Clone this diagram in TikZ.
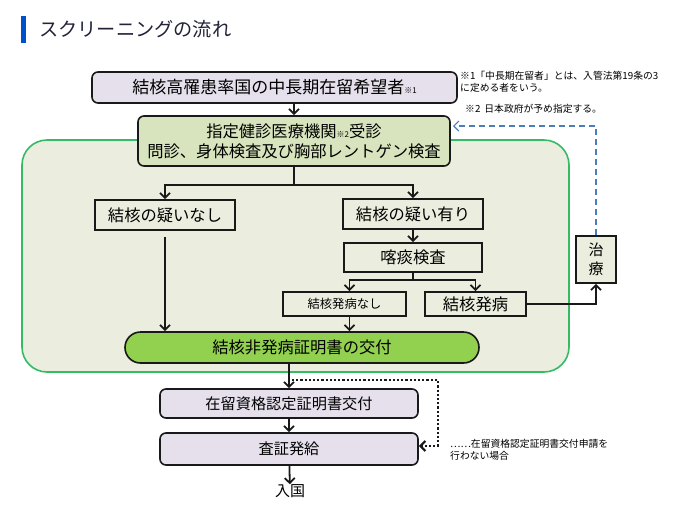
\documentclass[tikz,border=0pt]{standalone}
\usepackage{fontspec}
\setmainfont{Noto Sans CJK JP}
\usetikzlibrary{arrows.meta}
\definecolor{lavender}{HTML}{E6E0EC}
\definecolor{palegreen}{HTML}{D7E4BD}
\definecolor{areagreen}{HTML}{EBEEDF}
\definecolor{framegreen}{HTML}{33BB66}
\definecolor{limegreen}{HTML}{92D050}
\definecolor{backblue}{HTML}{4A7EBB}
\definecolor{titleblue}{HTML}{0050CC}
\definecolor{titleink}{HTML}{22223A}
\newcommand{\refmark}[1]{{\fontsize{8}{8}\selectfont ※#1}}
\begin{document}
\begin{tikzpicture}[x=1pt, y=-1pt, >={Straight Barb[length=5pt,width=10pt]},
  box/.style={draw=black!90, line width=1.6pt, inner sep=0pt, align=center,
    font=\fontsize{16.3}{20}\selectfont},
  roundbox/.style={box, rounded corners=6pt},
  arr/.style={->, line width=1.8pt, black!90},
  note/.style={anchor=west, inner sep=0pt, align=left, font=\fontsize{9.8}{12.5}\selectfont}]
\useasboundingbox (0,0) rectangle (683,515);
% title
\fill[titleblue] (21,16) rectangle (26,43);
\node[anchor=west, inner sep=0pt, text=titleink, font=\fontsize{19.2}{20}\selectfont] (title) at (39,29) {スクリーニングの流れ};
% screening area
\draw[framegreen, fill=areagreen, line width=1.6pt, rounded corners=25pt] (22,140) rectangle (569,372);
% boxes
\node[roundbox, fill=lavender, minimum width=365pt, minimum height=31pt, font=\fontsize{17}{20}\selectfont] (top) at (274.5,87.5) {結核高罹患率国の中長期在留希望者\refmark{1}};
\node[roundbox, fill=palegreen, minimum width=312pt, minimum height=50pt] (exam) at (294,141) {指定健診医療機関\refmark{2}受診\\問診、身体検査及び胸部レントゲン検査};
\node[box, fill=areagreen, minimum width=140pt, minimum height=30pt] (none) at (165,215) {結核の疑いなし};
\node[box, fill=areagreen, minimum width=140pt, minimum height=30pt] (susp) at (413,214) {結核の疑い有り};
\node[box, fill=areagreen, minimum width=138pt, minimum height=29pt] (sputum) at (413,257.5) {喀痰検査};
\node[box, fill=areagreen, minimum width=123pt, minimum height=24pt, font=\fontsize{12.3}{14}\selectfont] (negative) at (344.5,304) {結核発病なし};
\node[box, fill=areagreen, minimum width=101pt, minimum height=24pt] (positive) at (475.5,304) {結核発病};
\node[box, fill=limegreen, minimum width=354pt, minimum height=31pt, rounded corners=15.5pt] (cert) at (302,347.5) {結核非発病証明書の交付};
\node[box, fill=areagreen, minimum width=40pt, minimum height=47pt, font=\fontsize{15}{19}\selectfont] (treat) at (596,259.5) {治\\療};
\node[roundbox, fill=lavender, minimum width=258pt, minimum height=29pt, font=\fontsize{15.2}{18}\selectfont] (docs) at (289,403.5) {在留資格認定証明書交付};
\node[roundbox, fill=lavender, minimum width=258pt, minimum height=32pt, font=\fontsize{15.2}{18}\selectfont] (visa) at (289,449) {査証発給};
\node[inner sep=0pt, font=\fontsize{15}{18}\selectfont] (entry) at (290,491) {入国};
% notes
\node[note] (note1) at (460,82) {※1「中長期在留者」とは、入管法第19条の3\\に定める者をいう。};
\node[note] (note2) at (465,109) {※2\hspace{4pt}日本政府が予め指定する。};
\node[note] (note3) at (450,450) {……在留資格認定証明書交付申請を\\行わない場合};
% connectors
\coordinate (ret) at (453,126);
\coordinate (skip) at (292,380);
\draw[arr] (exam.north |- top.south) -- (exam.north);
\draw[arr] (exam.south) -- ++(0,18) -| (none.north);
\draw[arr] (exam.south) -- ++(0,18) -| (susp.north);
\draw[arr] (none.south) ++(0,6) -- (none.south |- cert.north);
\draw[arr] (susp) -- (sputum);
\draw[arr] (sputum.south) -- ++(0,7) -| ([xshift=5pt]negative.north);
\draw[arr] (sputum.south) -- ++(0,7) -| (positive.north);
\draw[arr] ([xshift=5pt]negative.south) -- ([xshift=5pt]negative.south |- cert.north);
\draw[arr] (positive.east) -| (treat.south);
\draw[->, backblue, line width=1.2pt, dash pattern=on 6pt off 4pt] (treat.north) |- (ret);
\draw[arr] (docs.north |- cert.south) -- (docs.north);
\draw[->, line width=2.2pt, black!90, dotted] (skip) -| ([xshift=19pt,yshift=3pt]visa.east) -- ([yshift=3pt]visa.east);
\draw[arr] (docs) -- (visa);
\draw[arr] (visa) -- (entry);
\end{tikzpicture}
\end{document}
